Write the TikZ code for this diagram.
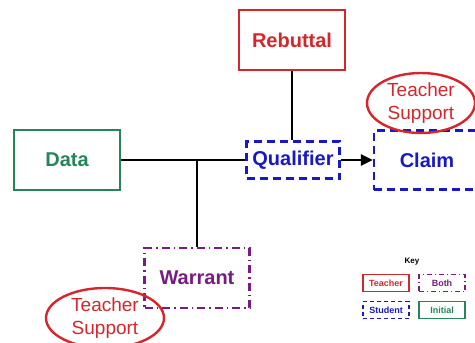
\documentclass[tikz,border=0pt]{standalone}
\usepackage{fontspec}
\setmainfont{Liberation Sans}
\usetikzlibrary{arrows.meta,shapes.geometric}
\definecolor{tred}{RGB}{214,38,44}
\definecolor{tgreen}{RGB}{36,134,88}
\definecolor{tblue}{RGB}{24,24,200}
\definecolor{tpurple}{RGB}{120,28,130}
\tikzset{
  box/.style={draw,line width=2.4pt,rectangle,inner sep=0pt,font=\bfseries\fontsize{20}{22}\selectfont},
  teacher/.style={box,tred},
  initial/.style={box,tgreen},
  student/.style={box,tblue,dash pattern=on 8pt off 5pt},
  both/.style={box,tpurple,dash pattern=on 8pt off 4pt on 1.5pt off 4pt},
  support/.style={draw=tred,line width=2.4pt,ellipse,inner sep=0pt,text=tred,align=center,font=\fontsize{19}{23}\selectfont},
  keybox/.style={line width=1.4pt,minimum width=46pt,minimum height=17pt,font=\bfseries\fontsize{9}{10}\selectfont},
  conn/.style={line width=2.4pt,black},
}
\begin{document}
\begin{tikzpicture}[x=1pt,y=-1pt]
\useasboundingbox (0,0) rectangle (475,343);
\clip (0,0) rectangle (475,343);
\node[teacher,minimum width=106pt,minimum height=60pt] (reb) at (292,40) {Rebuttal};
\node[initial,minimum width=106pt,minimum height=60pt] (data) at (67,160) {Data};
\node[student,minimum width=93pt,minimum height=37pt] (qual) at (293,160) {Qualifier};
\node[student,minimum width=106pt,minimum height=59pt] (claim) at (427,160) {Claim};
\node[both,minimum width=105pt,minimum height=60pt] (war) at (197,278) {Warrant};
\node[support,minimum width=108pt,minimum height=60pt] (ts1) at (421,103) {Teacher\\Support};
\node[support,minimum width=118pt,minimum height=60pt] (ts2) at (105,318) {Teacher\\Support};
\draw[conn] (data.east) -- (qual.west);
\coordinate (j) at (war.north |- data.east);
\draw[conn] (j) -- (war.north);
\draw[conn] (reb.south) -- (reb.south |- qual.north);
\draw[conn,-{Triangle[length=12pt,width=11pt]}] (qual.east) -- (claim.west);
% key
\node[font=\bfseries\fontsize{8}{9}\selectfont] (key) at (412,262) {Key};
\node[teacher,keybox] (k1) at (386,283) {Teacher};
\node[both,keybox,dash pattern=on 5pt off 3pt on 1pt off 3pt] (k2) at (442,283) {Both};
\node[student,keybox,dash pattern=on 4pt off 3pt] (k3) at (386,310) {Student};
\node[initial,keybox] (k4) at (442,310) {Initial};
\end{tikzpicture}
\end{document}
